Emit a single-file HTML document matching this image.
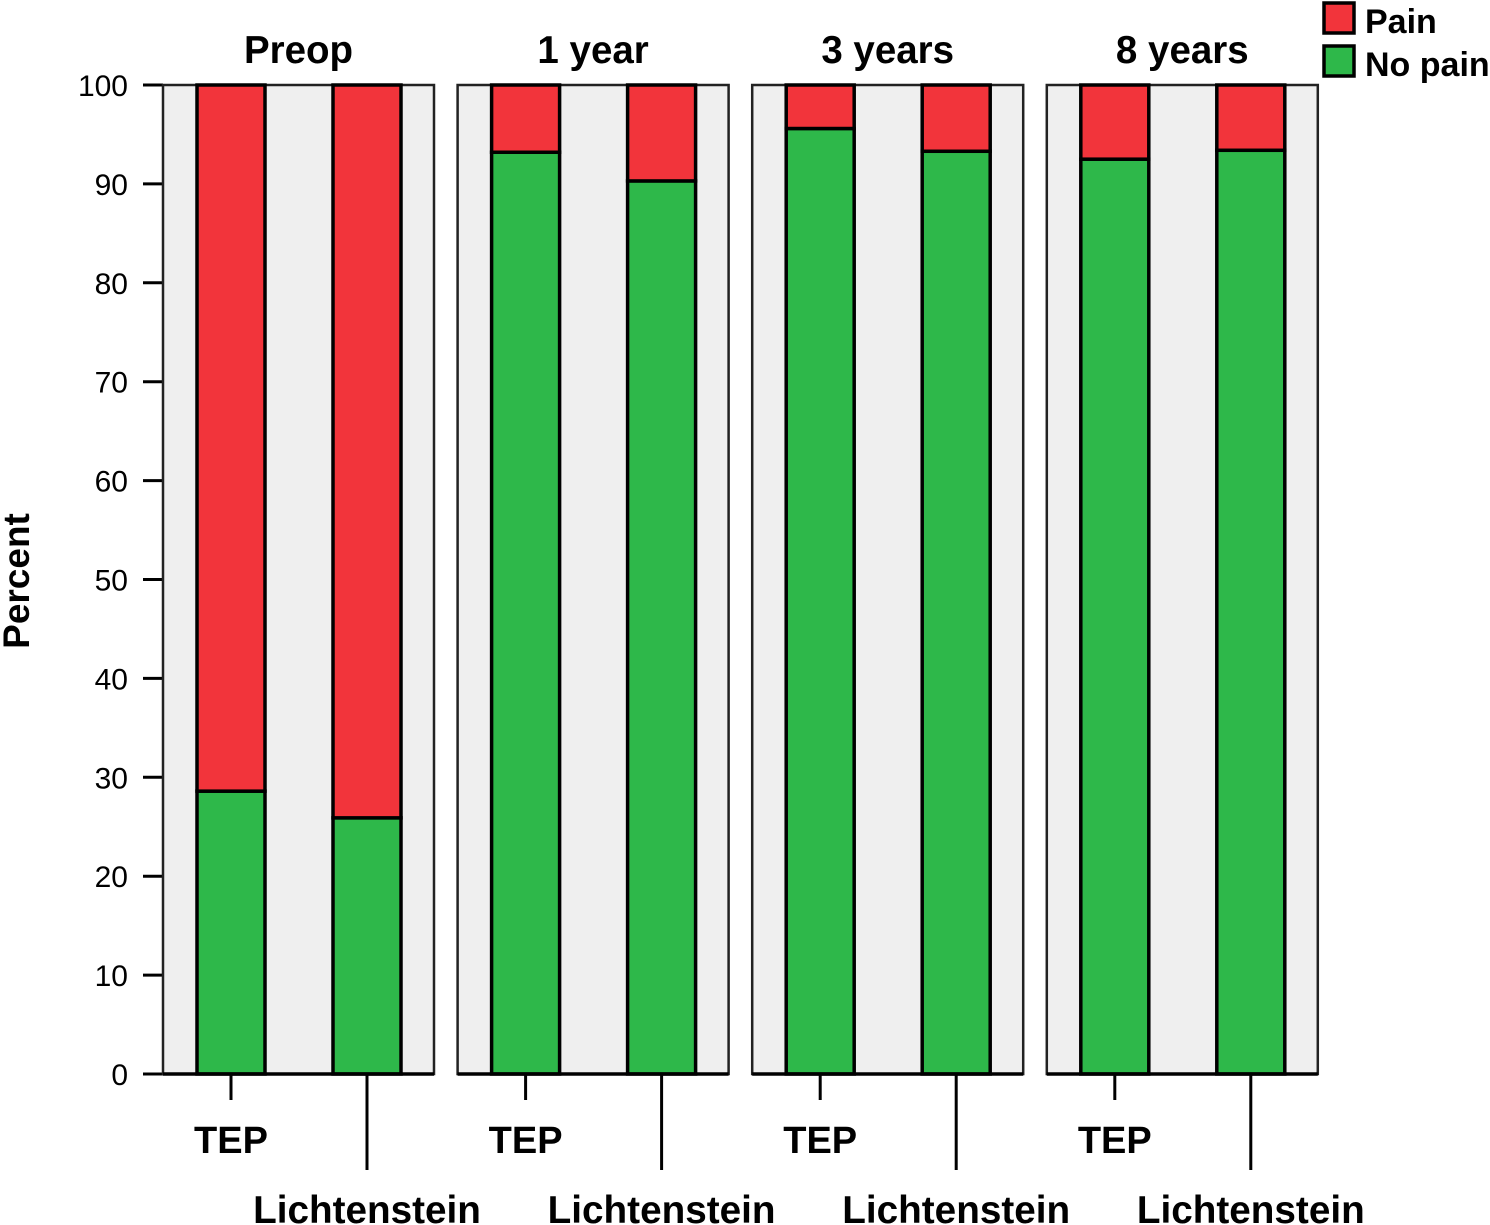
<!DOCTYPE html>
<html><head><meta charset="utf-8"><style>
html,body{margin:0;padding:0;background:#fff;}
svg{display:block;font-family:"Liberation Sans",Arial,sans-serif;}
</style></head><body>
<svg id="chart" width="1490" height="1225" viewBox="0 0 1490 1225"></svg>
<script>
const panels = ["Preop", "1 year", "3 years", "8 years"];
const groups = ["TEP", "Lichtenstein"];
const noPain = [[28.6, 25.9], [93.2, 90.3], [95.6, 93.3], [92.5, 93.4]];
const yTicks = [0, 10, 20, 30, 40, 50, 60, 70, 80, 90, 100];

const NS = "http://www.w3.org/2000/svg";
const svg = document.getElementById("chart");
const Y0 = 1074, Y100 = 85;
const y = v => Y0 - (v / 100) * (Y0 - Y100);
const panelX = i => 163 + i * 294.6;
const PW = 271;
const barX = j => 34 + j * 136;
const BW = 68;
const RED = "#f2343b", GREEN = "#2eb84a";

function el(tag, attrs, parent) {
  const e = document.createElementNS(NS, tag);
  for (const k in attrs) e.setAttribute(k, attrs[k]);
  (parent || svg).appendChild(e);
  return e;
}

yTicks.forEach(t => {
  const l = el("line", {x1: 143, x2: 163, y1: y(t), y2: y(t), stroke: "#000", "stroke-width": 3});
  
  
  const tx = el("text", {x: 128, y: y(t) + 11, "text-anchor": "end", "font-size": 30});
  
  
  tx.textContent = t;
});
const yt = el("text", {x: 0, y: 0, "font-size": 37, "font-weight": "bold", "text-anchor": "middle", transform: "translate(29,581) rotate(-90)"});


yt.textContent = "Percent";

panels.forEach((p, i) => {
  const px = panelX(i);
  const g = el("g", {});
  
  
  el("rect", {x: px, y: Y100, width: PW, height: Y0 - Y100, fill: "#efefef", stroke: "#222", "stroke-width": 2.5}, g);
  const title = el("text", {x: px + PW / 2, y: 63, "text-anchor": "middle", "font-size": 38.5, "font-weight": "bold"}, g);
  
  
  title.textContent = p;
  groups.forEach((gr, j) => {
    const bx = px + barX(j);
    const v = noPain[i][j];
    const gre = el("rect", {x: bx, y: y(v), width: BW, height: y(0) - y(v), fill: GREEN, stroke: "#000", "stroke-width": 3.5}, g);
    
    
    const red = el("rect", {x: bx, y: y(100), width: BW, height: y(v) - y(100), fill: RED, stroke: "#000", "stroke-width": 3.5}, g);
    
    
    const cx = bx + BW / 2;
    const tickEnd = j === 0 ? 1100 : 1170;
    const tk = el("line", {x1: cx, x2: cx, y1: Y0, y2: tickEnd, stroke: "#000", "stroke-width": 3}, g);
    
    
    const lb = el("text", {x: cx, y: j === 0 ? 1153 : 1223, "text-anchor": "middle", "font-size": j === 0 ? 38 : 38.7, "font-weight": "bold"}, g);
    
    
    lb.textContent = gr;
  });
  el("line", {x1: px, x2: px + PW, y1: Y0, y2: Y0, stroke: "#000", "stroke-width": 3.5}, g);
});

const legendItems = [["Pain", RED, 3], ["No pain", GREEN, 46]];
legendItems.forEach(([name, c, ly]) => {
  const lg = el("g", {});
  
  
  el("rect", {x: 1324, y: ly, width: 30, height: 30, fill: c, stroke: "#000", "stroke-width": 3.5}, lg);
  const t = el("text", {x: 1365, y: ly + 30, "font-size": 34, "font-weight": "bold"}, lg);
  t.textContent = name;
});
</script>
</body></html>
